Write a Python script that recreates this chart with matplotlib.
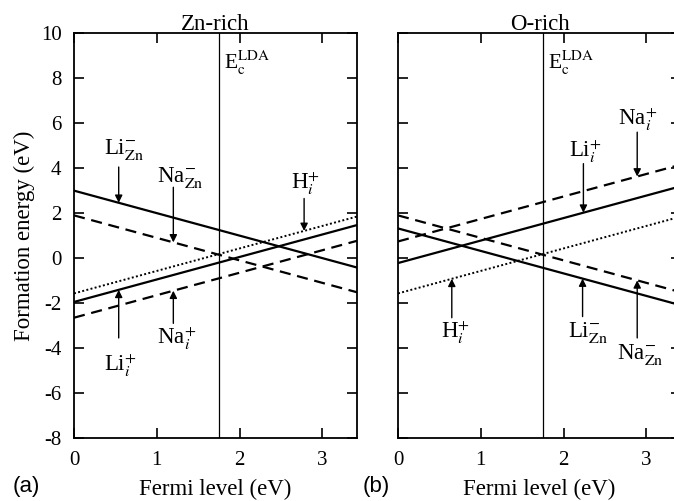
import numpy as np
import matplotlib
matplotlib.use('Agg')
import matplotlib.pyplot as plt

plt.rcParams['font.family'] = ['Liberation Serif', 'DejaVu Serif']
plt.rcParams['mathtext.fontset'] = 'stix'
plt.rcParams['axes.unicode_minus'] = False

# Fermi level end points (eV)
fermi = [0.0, 3.42]
e_gap = 1.75

# Zn-rich formation energies at the two end points
zn_li_zn = [3.0, -0.42]
zn_na_zn = [1.9, -1.52]
zn_h_i = [-1.57, 1.85]
zn_li_i = [-1.95, 1.47]
zn_na_i = [-2.65, 0.77]

# O-rich formation energies
o_li_zn = [1.32, -2.1]
o_na_zn = [1.9, -1.52]
o_h_i = [-1.57, 1.85]
o_li_i = [-0.22, 3.2]
o_na_i = [0.74, 4.16]

xticks = [0, 1, 2, 3]
yticks = [-8, -6, -4, -2, 0, 2, 4, 6, 8, 10]

fig = plt.figure(figsize=(6.74, 5.01), dpi=100)
ax1 = fig.add_axes([0.1098, 0.1257, 0.42, 0.808])
ax2 = fig.add_axes([0.5905, 0.1257, 0.42, 0.808])

solid = dict(color='k', lw=1.6, ls='-')
dashed = dict(color='k', lw=1.6, ls=(0, (5, 3)))
dotted = dict(color='k', lw=1.4, ls=(0, (1, 1.2)))


def label(ax, txt, line, xa, ya, xt, yt):
    # arrow from (xa, ya) to the curve at xa
    tip = np.interp(xa, fermi, line)
    ax.annotate('', xy=(xa, tip), xytext=(xa, ya),
                arrowprops=dict(arrowstyle='-|>', color='k', lw=1.0,
                                mutation_scale=11, shrinkA=0, shrinkB=0))
    ax.text(xt, yt, txt, fontsize=16.5, ha='center', va='center')


for ax in (ax1, ax2):
    ax.set_xlim(0, 3.42)
    ax.set_ylim(-8, 10)
    ax.set_xticks(xticks)
    ax.set_yticks(yticks)
    ax.tick_params(direction='in', top=True, right=True, length=7,
                   width=1.2, labelsize=15, pad=9)
    for s in ax.spines.values():
        s.set_linewidth(1.3)
    ax.axvline(e_gap, color='k', lw=0.9)
    ax.text(e_gap + 0.06, 8.7, r'E$_{\mathrm{c}}^{\mathrm{LDA}}$',
            fontsize=15.5, ha='left', va='center')
    ax.set_xlabel('Fermi level (eV)', fontsize=16.5, labelpad=7)

# (a) Zn-rich
ax1.plot(fermi, zn_li_zn, **solid)
ax1.plot(fermi, zn_li_i, **solid)
ax1.plot(fermi, zn_na_zn, **dashed)
ax1.plot(fermi, zn_na_i, **dashed)
ax1.plot(fermi, zn_h_i, **dotted)
ax1.set_title('Zn-rich', fontsize=16.5, pad=2)
ax1.set_ylabel('Formation energy (eV)', fontsize=16.5, labelpad=4)

label(ax1, r'Li$_{\mathrm{Zn}}^{-}$', zn_li_zn, 0.54, 4.05, 0.6, 4.85)
label(ax1, r'Na$_{\mathrm{Zn}}^{-}$', zn_na_zn, 1.2, 3.15, 1.28, 3.6)
label(ax1, r'H$_{i}^{+}$', zn_h_i, 2.78, 2.65, 2.8, 3.3)
label(ax1, r'Li$_{i}^{+}$', zn_li_i, 0.54, -3.55, 0.56, -4.75)
label(ax1, r'Na$_{i}^{+}$', zn_na_i, 1.2, -2.9, 1.24, -3.55)

# (b) O-rich
ax2.plot(fermi, o_li_zn, **solid)
ax2.plot(fermi, o_li_i, **solid)
ax2.plot(fermi, o_na_zn, **dashed)
ax2.plot(fermi, o_na_i, **dashed)
ax2.plot(fermi, o_h_i, **dotted)
ax2.set_title('O-rich', fontsize=16.5, pad=2)
ax2.set_yticklabels([])

label(ax2, r'Na$_{i}^{+}$', o_na_i, 2.89, 5.6, 2.9, 6.15)
label(ax2, r'Li$_{i}^{+}$', o_li_i, 2.24, 4.2, 2.27, 4.75)
label(ax2, r'H$_{i}^{+}$', o_h_i, 0.65, -2.65, 0.69, -3.3)
label(ax2, r'Li$_{\mathrm{Zn}}^{-}$', o_li_zn, 2.23, -2.6, 2.3, -3.3)
label(ax2, r'Na$_{\mathrm{Zn}}^{-}$', o_na_zn, 2.89, -3.55, 2.93, -4.3)

fig.text(0.018, 0.028, '(a)', fontsize=16, family='Liberation Sans', va='center')
fig.text(0.538, 0.028, '(b)', fontsize=16, family='Liberation Sans', va='center')

fig.savefig('out.png', dpi=100)
